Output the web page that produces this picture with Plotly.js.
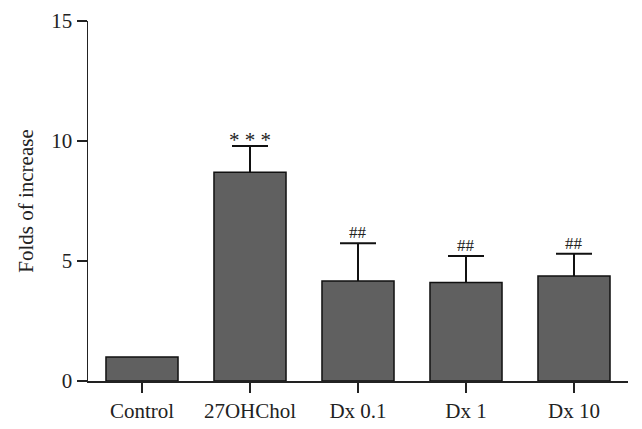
<!DOCTYPE html>
<html>
<head>
<meta charset="utf-8">
<script src="https://cdn.plot.ly/plotly-3.0.1.min.js"></script>
<style>html,body{margin:0;padding:0;background:#fff;}#chart{width:642px;height:429px;}</style>
</head>
<body>
<div id="chart"></div>
<script>
var categories = ["Control", "27OHChol", "Dx 0.1", "Dx 1", "Dx 10"];
var values = [1.0, 8.7, 4.17, 4.1, 4.37];
var errors = [null, 1.09, 1.57, 1.11, 0.93];
var marks = ["", "* * *", "##", "##", "##"];
var yTicks = [0, 5, 10, 15];

var fontFam = "Liberation Serif, Times New Roman, serif";
var barTrace = {
  type: "bar",
  x: categories,
  y: values,
  width: 0.667,
  marker: {color: "#606060", line: {color: "#111", width: 1.5}},
  error_y: {type: "data", symmetric: false, array: errors, arrayminus: [0, 0, 0, 0, 0], visible: true, color: "#111", thickness: 2, width: 0},
  hoverinfo: "none"
};
// caps at the top of each error bar (same data, upper end only)
var capY = [], capX = [], capZero = [];
for (var k = 0; k < categories.length; k++) {
  if (errors[k] !== null) { capX.push(categories[k]); capY.push(values[k] + errors[k]); capZero.push(0); }
}
var capTrace = {
  type: "scatter", mode: "markers", x: capX, y: capY,
  marker: {size: 1, opacity: 0},
  error_y: {type: "data", array: capZero, visible: true, color: "#111", thickness: 2, width: 18},
  hoverinfo: "none"
};
var annotations = [];
for (var i = 0; i < categories.length; i++) {
  if (marks[i]) {
    var big = marks[i].indexOf("*") >= 0;
    annotations.push({
      x: categories[i], y: values[i] + errors[i], xref: "x", yref: "y",
      text: marks[i], showarrow: false, yanchor: "bottom", yshift: big ? -8 : -1,
      font: {family: fontFam, size: big ? 21 : 17, color: "#222"}
    });
  }
}
var layout = {
  width: 642, height: 429,
  margin: {l: 88, r: 14, t: 21, b: 48},
  paper_bgcolor: "#fff", plot_bgcolor: "#fff",
  showlegend: false,
  font: {family: fontFam, color: "#222", size: 18},
  xaxis: {
    type: "category", range: [-0.5, 4.5],
    showline: true, linecolor: "#222", linewidth: 1.5,
    ticks: "outside", ticklen: 10, tickwidth: 1.5, tickcolor: "#222",
    showgrid: false, zeroline: false,
    tickfont: {family: fontFam, size: 21, color: "#222"}
  },
  yaxis: {
    range: [0, 15], tickvals: yTicks,
    showline: true, linecolor: "#222", linewidth: 1.5,
    ticks: "outside", ticklen: 10, tickwidth: 1.5, tickcolor: "#222",
    showgrid: false, zeroline: false,
    tickfont: {family: fontFam, size: 21, color: "#222"},
    title: {text: "Folds of increase", font: {family: fontFam, size: 21, color: "#222"}, standoff: 12}
  },
  annotations: annotations
};
Plotly.newPlot("chart", [barTrace, capTrace], layout, {staticPlot: true});
</script>
</body>
</html>
